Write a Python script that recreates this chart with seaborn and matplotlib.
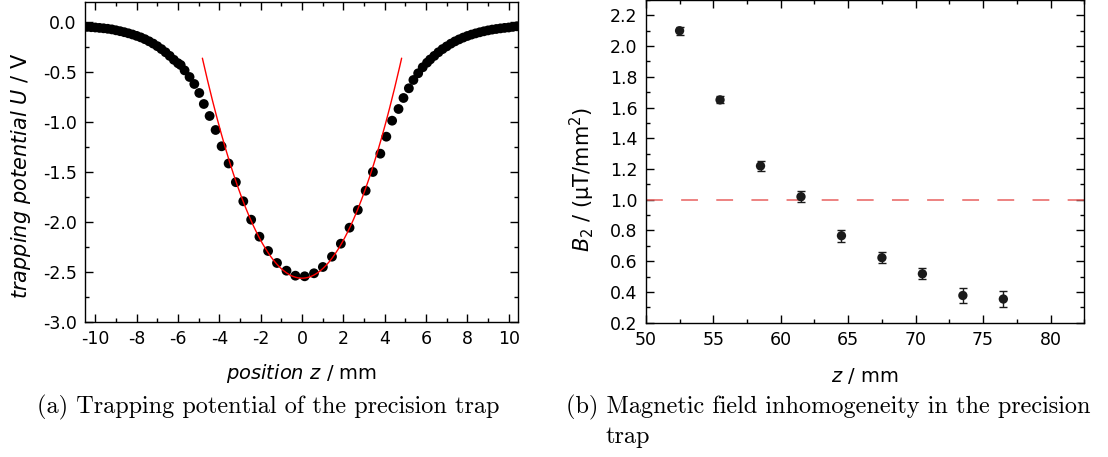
import numpy as np
import pandas as pd
import seaborn as sns
import matplotlib
matplotlib.use("Agg")
import matplotlib.pyplot as plt
from matplotlib.ticker import MultipleLocator, FormatStrFormatter

# (a) trapping potential
pos_z = [-10.4, -10.2, -10.0, -9.8, -9.6, -9.4, -9.2, -9.0, -8.8, -8.6, -8.4, -8.2,
         -8.0, -7.8, -7.6, -7.4, -7.2, -7.0, -6.8, -6.6, -6.4, -6.2, -6.0, -5.87,
         -5.68, -5.44, -5.21, -4.97, -4.75, -4.47, -4.18, -3.89, -3.55, -3.20, -2.84,
         -2.46, -2.06, -1.64, -1.21, -0.75, -0.32, 0.13, 0.58, 1.01, 1.45, 1.88, 2.30,
         2.70, 3.08, 3.43, 3.79, 4.08, 4.36, 4.67, 4.91, 5.17, 5.39, 5.62, 5.84, 6.05,
         6.2, 6.4, 6.6, 6.8, 7.0, 7.2, 7.4, 7.6, 7.8, 8.0, 8.2, 8.4, 8.6, 8.8, 9.0,
         9.2, 9.4, 9.6, 9.8, 10.0, 10.2, 10.4]
potential = [-0.052, -0.055, -0.058, -0.062, -0.066, -0.071, -0.077, -0.086, -0.095,
             -0.105, -0.116, -0.128, -0.142, -0.157, -0.175, -0.196, -0.219, -0.245,
             -0.274, -0.306, -0.342, -0.381, -0.415, -0.433, -0.487, -0.553, -0.623,
             -0.713, -0.823, -0.943, -1.083, -1.246, -1.418, -1.605, -1.796, -1.98,
             -2.15, -2.293, -2.413, -2.49, -2.54, -2.546, -2.516, -2.453, -2.35, -2.22,
             -2.06, -1.883, -1.69, -1.503, -1.32, -1.15, -0.99, -0.873, -0.763, -0.666,
             -0.583, -0.516, -0.456, -0.41, -0.378, -0.342, -0.306, -0.274, -0.247,
             -0.22, -0.197, -0.177, -0.159, -0.143, -0.129, -0.117, -0.106, -0.096,
             -0.087, -0.079, -0.073, -0.067, -0.062, -0.058, -0.052, -0.046]

# harmonic fit U = U0 + c*z^2 around the trap centre
fit_u0 = -2.565
fit_c = 0.0947
fit_range = (-4.82, 4.82)

# (b) magnetic field inhomogeneity
b_z = [52.5, 55.5, 58.5, 61.5, 64.5, 67.5, 70.5, 73.5, 76.5]
b2 = [2.10, 1.65, 1.22, 1.02, 0.766, 0.623, 0.518, 0.377, 0.354]
b2_err = [0.025, 0.022, 0.03, 0.035, 0.04, 0.036, 0.036, 0.048, 0.052]
b2_ref = 1.0

sns.set_style("ticks")
plt.rcParams['font.family'] = ['DejaVu Sans']
plt.rcParams['mathtext.fontset'] = 'dejavusans'
plt.rcParams['axes.unicode_minus'] = False
plt.rcParams['text.color'] = 'black'
plt.rcParams['axes.labelcolor'] = 'black'
plt.rcParams['xtick.color'] = 'black'
plt.rcParams['ytick.color'] = 'black'

fig = plt.figure(figsize=(11.08, 4.57), dpi=100)
ax1 = fig.add_axes([0.0767, 0.2961, 0.3908, 0.7002])
ax2 = fig.add_axes([0.5829, 0.2939, 0.3957, 0.7061])

pot = pd.DataFrame({"z": pos_z, "U": potential})
sns.scatterplot(data=pot, x="z", y="U", ax=ax1, color="black", s=50,
                edgecolor="none", legend=False, zorder=3)
zf = np.linspace(fit_range[0], fit_range[1], 200)
fit = pd.DataFrame({"z": zf, "U": fit_u0 + fit_c * zf ** 2})
sns.lineplot(data=fit, x="z", y="U", ax=ax1, color="red", lw=1.0, zorder=4)

ax1.set_xlim(-10.5, 10.45)
ax1.set_ylim(-3.0, 0.2)
ax1.xaxis.set_major_locator(MultipleLocator(2))
ax1.xaxis.set_minor_locator(MultipleLocator(1))
ax1.yaxis.set_major_locator(MultipleLocator(0.5))
ax1.yaxis.set_minor_locator(MultipleLocator(0.25))
ax1.xaxis.set_major_formatter(FormatStrFormatter('%d'))
ax1.yaxis.set_major_formatter(FormatStrFormatter('%.1f'))
ax1.set_xlabel(r'$\mathit{position\ z}$ / mm', fontsize=14)
ax1.set_ylabel(r'$\mathit{trapping\ potential\ U}$ / V', fontsize=15)
ax1.xaxis.set_label_coords(0.5, -0.125)
ax1.yaxis.set_label_coords(-0.12, 0.455)

bdf = pd.DataFrame({"z": b_z, "B2": b2})
ax2.axhline(b2_ref, color="#e8605f", lw=1.1, dashes=(11, 12), zorder=1)
ax2.errorbar(b_z, b2, yerr=b2_err, fmt="none", ecolor="#1a1a1a", elinewidth=1.0,
             capsize=2.8, capthick=1.0, zorder=2)
sns.scatterplot(data=bdf, x="z", y="B2", ax=ax2, color="#1a1a1a", s=45,
                edgecolor="none", legend=False, zorder=3)

ax2.set_xlim(50, 82.5)
ax2.set_ylim(0.2, 2.3)
ax2.xaxis.set_major_locator(MultipleLocator(5))
ax2.xaxis.set_minor_locator(MultipleLocator(2.5))
ax2.yaxis.set_major_locator(MultipleLocator(0.2))
ax2.yaxis.set_minor_locator(MultipleLocator(0.1))
ax2.yaxis.set_major_formatter(FormatStrFormatter('%.1f'))
ax2.set_xlabel(r'$z$ / mm', fontsize=14)
ax2.set_ylabel(r'$B_2$ / (µT/mm$^2$)', fontsize=15)
ax2.xaxis.set_label_coords(0.5, -0.133)
ax2.yaxis.set_label_coords(-0.112, 0.442)

for ax in (ax1, ax2):
    for sp in ax.spines.values():
        sp.set_visible(True)
        sp.set_linewidth(1.0)
        sp.set_color("black")
    ax.tick_params(which="both", direction="in", top=True, right=True,
                   labelsize=12.5, color="black", labelcolor="black", width=1.0)
    ax.tick_params(which="major", length=6, pad=6)
    ax.tick_params(which="minor", length=3)

fig.text(268 / 1108, 1 - 413 / 457, "(a) Trapping potential of the precision trap",
         family="cmr10", fontsize=17.5, ha="center", va="baseline")
fig.text(566 / 1108, 1 - 413 / 457, "(b) Magnetic field inhomogeneity in the precision",
         family="cmr10", fontsize=17.5, ha="left", va="baseline")
fig.text(606 / 1108, 1 - 443 / 457, "trap",
         family="cmr10", fontsize=17.5, ha="left", va="baseline")

fig.savefig("out.png", dpi=100)
